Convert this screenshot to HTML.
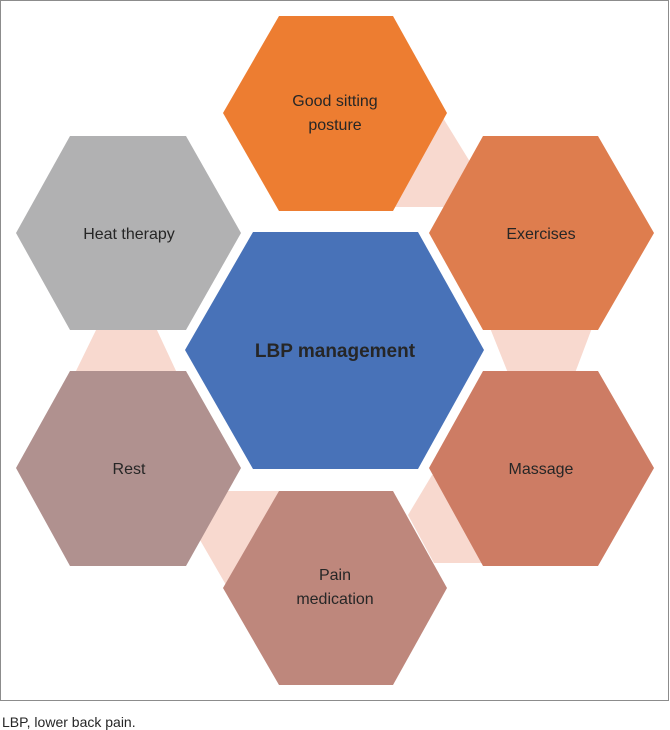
<!DOCTYPE html>
<html><head><style>
html,body{margin:0;padding:0;background:#fff;width:670px;height:730px;overflow:hidden}
svg{display:block}
</style></head><body>
<svg width="670" height="730" viewBox="0 0 670 730" xmlns="http://www.w3.org/2000/svg" font-family="Liberation Sans, sans-serif">
<rect x="0.5" y="0.5" width="668" height="700" fill="#fff" stroke="#8c8c8c" stroke-width="1"/>
<g fill="#f8d9cf">
<polygon points="440,113 475,170 445,207 395,207"/>
<polygon points="490,328 592,328 575,373 508,373"/>
<polygon points="97,328 156,328 177,373 75,373"/>
<polygon points="222,491 280,491 262,590 226,585 200,540 215,505"/>
<polygon points="432,475 470,475 483,563 434,563 408,515"/>
</g>
<polygon points="279,16 393,16 447,113 393,211 279,211 223,113" fill="#ed7d31"/>
<polygon points="70,136 186,136 241,233 186,330 70,330 16,233" fill="#b1b1b2"/>
<polygon points="483,136 598,136 654,233 598,330 483,330 429,233" fill="#de7d4e"/>
<polygon points="253,232 418,232 484,350 418,469 253,469 185,350" fill="#4872b8"/>
<polygon points="70,371 186,371 241,468 186,566 70,566 16,468" fill="#b0918f"/>
<polygon points="483,371 598,371 654,468 598,566 483,566 429,468" fill="#cd7c64"/>
<polygon points="279,491 393,491 447,588 393,685 279,685 223,588" fill="#be877c"/>
<g fill="#262626" font-size="16" text-anchor="middle">
<text x="335" y="106">Good sitting</text>
<text x="335" y="130">posture</text>
<text x="129" y="239">Heat therapy</text>
<text x="541" y="239">Exercises</text>
<text x="129" y="474">Rest</text>
<text x="541" y="474">Massage</text>
<text x="335" y="580">Pain</text>
<text x="335" y="604">medication</text>
<text x="335" y="357" font-size="19" font-weight="bold">LBP management</text>
</g>
<text x="2" y="727" font-size="14" fill="#262626">LBP, lower back pain.</text>
</svg>
</body></html>
